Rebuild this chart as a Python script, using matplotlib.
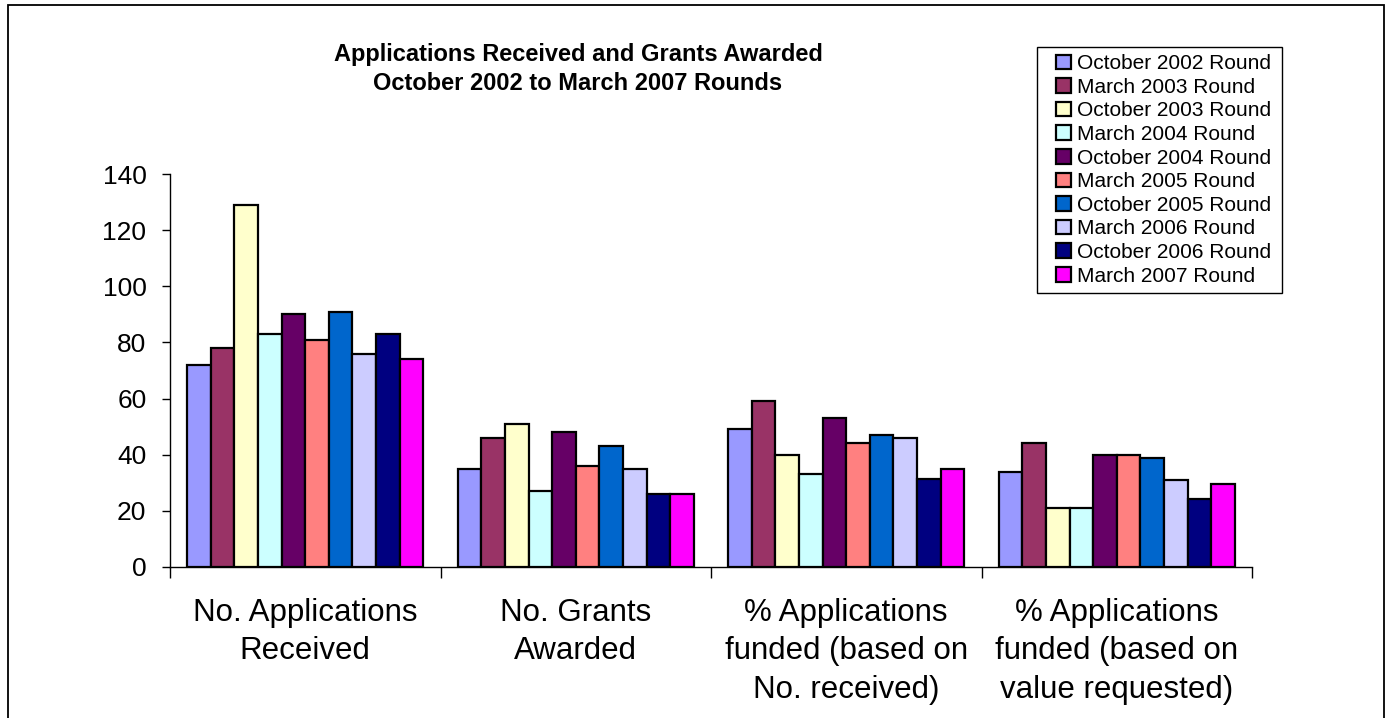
import numpy as np
import matplotlib
matplotlib.use("Agg")
import matplotlib.pyplot as plt
from matplotlib.patches import Rectangle

plt.rcParams['font.family'] = ['Liberation Sans', 'DejaVu Sans']

categories = ["No. Applications\nReceived", "No. Grants\nAwarded",
              "% Applications\nfunded (based on\nNo. received)",
              "% Applications\nfunded (based on\nvalue requested)"]
series_names = ["October 2002 Round", "March 2003 Round", "October 2003 Round",
                "March 2004 Round", "October 2004 Round", "March 2005 Round",
                "October 2005 Round", "March 2006 Round", "October 2006 Round",
                "March 2007 Round"]
oct_2002 = [72, 35, 49, 34]
mar_2003 = [78, 46, 59, 44]
oct_2003 = [129, 51, 40, 21]
mar_2004 = [83, 27, 33, 21]
oct_2004 = [90, 48, 53, 40]
mar_2005 = [81, 36, 44, 40]
oct_2005 = [91, 43, 47, 39]
mar_2006 = [76, 35, 46, 31]
oct_2006 = [83, 26, 31.5, 24.2]
mar_2007 = [74, 26, 35, 29.6]
series_values = [oct_2002, mar_2003, oct_2003, mar_2004, oct_2004,
                 mar_2005, oct_2005, mar_2006, oct_2006, mar_2007]
colors = ["#9999FF", "#993366", "#FFFFCC", "#CCFFFF", "#660066",
          "#FF8080", "#0066CC", "#CCCCFF", "#000080", "#FF00FF"]
y_ticks = [0, 20, 40, 60, 80, 100, 120, 140]

W, H = 1391, 718
fig = plt.figure(figsize=(W / 100, H / 100), dpi=100)
ax = fig.add_axes([170 / W, 1 - 567 / H, (1252 - 170) / W, (567 - 174) / H])

n = len(series_values)
bw = 0.0873
x0 = np.arange(len(categories)) + 0.5
for i, (name, vals, c) in enumerate(zip(series_names, series_values, colors)):
    ax.bar(x0 + (i - (n - 1) / 2) * bw, vals, width=bw, color=c,
           edgecolor='black', linewidth=1.6, label=name)

ax.set_xlim(0, len(categories))
ax.set_ylim(0, 140)
ax.set_yticks(y_ticks)
ax.set_yticklabels([str(t) for t in y_ticks], fontsize=19)
ax.tick_params(axis='y', direction='out', length=6, width=1, pad=11)

ax.set_xticks(np.arange(len(categories) + 1))
ax.set_xticklabels([])
ax.tick_params(axis='x', which='major', direction='out', length=8, width=1)
ax.set_xticks(x0, minor=True)
ax.set_xticklabels(categories, minor=True, fontsize=22.5, linespacing=1.38)
ax.tick_params(axis='x', which='minor', length=0, pad=22)

for s in ['top', 'right']:
    ax.spines[s].set_visible(False)
for s in ['left', 'bottom']:
    ax.spines[s].set_linewidth(1)

fig.text(578 / W, 1 - 61 / H, "Applications Received and Grants Awarded",
         ha='center', va='baseline', fontsize=17, fontweight='bold')
fig.text(578 / W, 1 - 90 / H, "October 2002 to March 2007 Rounds",
         ha='center', va='baseline', fontsize=17, fontweight='bold')

leg = fig.legend(loc='upper left', bbox_to_anchor=(1049 / W, 1 - 47 / H),
                 fontsize=15, frameon=False,
                 handlelength=0.7, handleheight=0.7, handletextpad=0.3,
                 labelspacing=0.22, borderpad=0.35, borderaxespad=0)

fig.patches.append(Rectangle((1037 / W, 1 - 293 / H), (1282 - 1037) / W,
                             (293 - 47) / H, transform=fig.transFigure,
                             fill=False, edgecolor='black', linewidth=1))

fig.patches.append(Rectangle((8 / W, -0.05), (1384 - 8) / W, 1.05 - 5 / H,
                             transform=fig.transFigure, fill=False,
                             edgecolor='black', linewidth=1.3))

fig.savefig("out.png", dpi=100, facecolor='white')
